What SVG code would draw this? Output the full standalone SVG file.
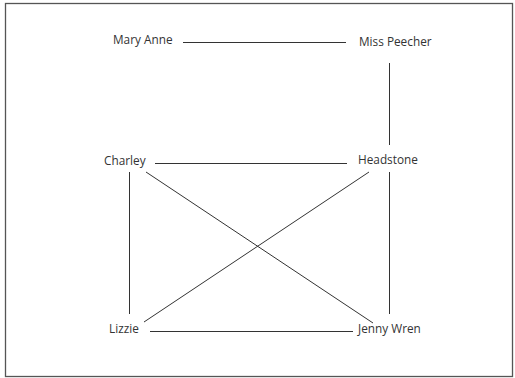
<svg xmlns="http://www.w3.org/2000/svg" width="515" height="378" viewBox="0 0 515 378">
<style>
.lbl{font-family:"Open Sans","Liberation Sans",sans-serif;font-size:11.8px;fill:#333}
.edge{stroke:#333;stroke-width:1;fill:none}
</style>
<rect x="0" y="0" width="515" height="378" fill="#fff"/>
<rect x="5.5" y="3.5" width="507" height="373" fill="none" stroke="#555" stroke-width="1.3"/>
<g id="connectors">
<line class="edge" x1="183" y1="42.5" x2="346" y2="42.5"/>
<line class="edge" x1="389.5" y1="63" x2="389.5" y2="145"/>
<line class="edge" x1="155" y1="163.5" x2="347" y2="163.5"/>
<line class="edge" x1="129.5" y1="172" x2="129.5" y2="314"/>
<line class="edge" x1="389.5" y1="172" x2="389.5" y2="314"/>
<line class="edge" x1="146" y1="172" x2="373" y2="323"/>
<line class="edge" x1="369" y1="172" x2="144" y2="322"/>
<line class="edge" x1="150" y1="331.5" x2="353" y2="331.5"/>
</g>
<g id="mary-anne"><text class="lbl" x="113" y="44">Mary Anne</text></g>
<g id="miss-peecher"><text class="lbl" x="359" y="46">Miss Peecher</text></g>
<g id="charley"><text class="lbl" x="104" y="165">Charley</text></g>
<g id="headstone"><text class="lbl" x="358" y="164">Headstone</text></g>
<g id="lizzie"><text class="lbl" x="109" y="333">Lizzie</text></g>
<g id="jenny-wren"><text class="lbl" x="358" y="333">Jenny Wren</text></g>
</svg>
